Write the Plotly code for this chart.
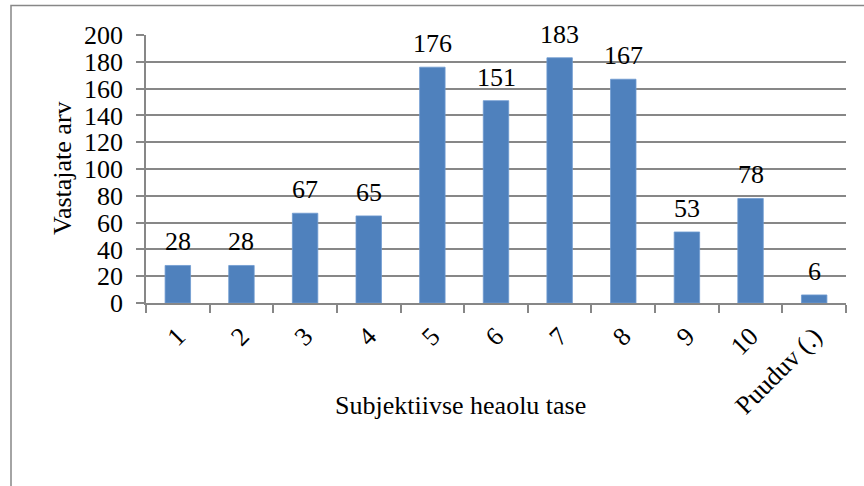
import plotly.graph_objects as go

categories = ["1", "2", "3", "4", "5", "6", "7", "8", "9", "10", "Puuduv (.)"]
values = [28, 28, 67, 65, 176, 151, 183, 167, 53, 78, 6]
y_ticks = [0, 20, 40, 60, 80, 100, 120, 140, 160, 180, 200]
x_title = "Subjektiivse heaolu tase"
y_title = "Vastajate arv"

FONT = "Liberation Serif"
FS = 26
GRID = "#878787"

fig = go.Figure()
fig.add_trace(go.Bar(
    x=list(range(len(categories))), y=values,
    marker=dict(color="#4F81BD", line=dict(color="#6F9AD0", width=0.8)),
    cliponaxis=False,
))

annotations = []
for i, v in enumerate(values):
    annotations.append(dict(x=i, y=v, xref="x", yref="y", text=str(v), showarrow=False,
                            yanchor="bottom", yshift=7,
                            font=dict(family=FONT, size=FS, color="#000000")))

L, R, T, B = 146, 846, 35, 303
W, H = 864, 486
pw, ph = R - L, B - T

def px2x(px):
    return (px - L) / pw

def py2y(py):
    return (B - py) / ph

annotations.append(dict(x=px2x(460), y=py2y(405), xref="paper", yref="paper", text=x_title,
                        showarrow=False, xanchor="center", yanchor="middle",
                        font=dict(family=FONT, size=FS, color="#000000")))
annotations.append(dict(x=px2x(62), y=py2y(168), xref="paper", yref="paper", text=y_title,
                        showarrow=False, xanchor="center", yanchor="middle", textangle=-90,
                        font=dict(family=FONT, size=FS, color="#000000")))

fig.update_layout(
    width=W, height=H,
    margin=dict(l=L, r=W - R, t=T, b=H - B, autoexpand=False),
    paper_bgcolor="white", plot_bgcolor="white",
    showlegend=False,
    bargap=0.6,
    annotations=annotations,
    shapes=[dict(type="rect", xref="paper", yref="paper",
                 x0=px2x(11), x1=px2x(880), y0=py2y(500), y1=py2y(5.5),
                 line=dict(color=GRID, width=1.5), fillcolor="rgba(0,0,0,0)", layer="above")],
    xaxis=dict(
        range=[-0.5, len(categories) - 0.5],
        tickvals=list(range(len(categories))), ticktext=categories,
        showgrid=False, showline=True, linecolor=GRID, linewidth=1.5,
        ticks="", tickangle=-45, ticklabelstandoff=6,
        tickfont=dict(family=FONT, size=FS, color="#000000"),
        minor=dict(tickvals=[i - 0.5 for i in range(len(categories) + 1)], ticks="outside",
                   ticklen=8, tickcolor=GRID, tickwidth=1.5, showgrid=False),
    ),
    yaxis=dict(
        range=[0, 200], tickvals=y_ticks, showgrid=True, gridcolor=GRID, gridwidth=1.5,
        showline=True, linecolor=GRID, linewidth=1.5, zeroline=False,
        ticks="outside", ticklen=8, tickcolor=GRID, tickwidth=1.5,
        ticklabelstandoff=8,
        tickfont=dict(family=FONT, size=FS, color="#000000"),
    ),
)

fig.write_html("out.html", config={"displayModeBar": False},
               post_script="document.body.style.margin='0px';")
